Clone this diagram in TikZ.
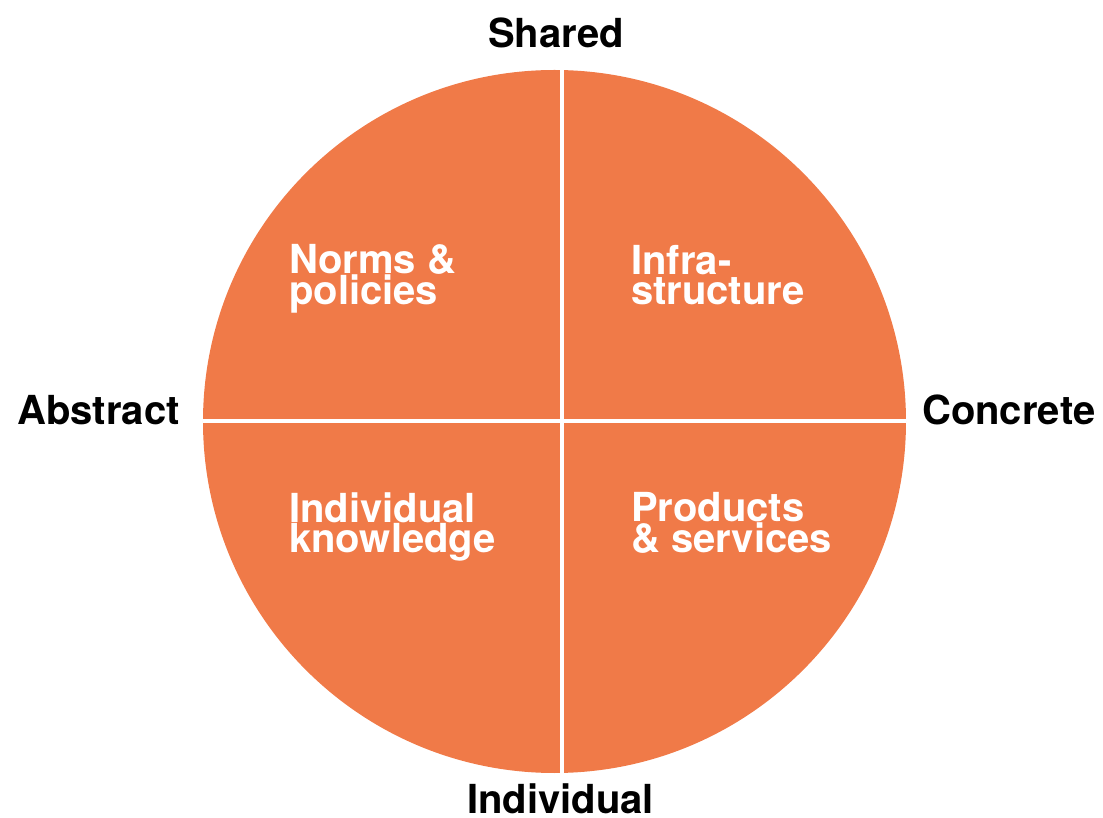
\documentclass[tikz,border=0pt]{standalone}
\usepackage{fontspec}
\setmainfont{TeX Gyre Heros}
\definecolor{quadorange}{RGB}{240,122,72}
\tikzset{
  axislabel/.style={inner sep=0pt,font=\fontsize{40bp}{40bp}\selectfont\bfseries},
  quadlabel/.style={inner sep=0pt,align=left,text=white,anchor=base west,
    font=\fontsize{40bp}{30bp}\selectfont\bfseries}
}
\begin{document}
\begin{tikzpicture}[x=1bp,y=1bp]
        \useasboundingbox (-554.5,-396.5) rectangle (548.5,421.5);
        %% Disc and dividing gaps
        \fill[quadorange] (0,0) circle (351.5);
        \begin{scope}
          \clip (0,0) circle (352);
          \draw[white,line width=4bp] (7.5,-360) -- (7.5,360);
          \draw[white,line width=4bp] (-360,0) -- (360,0);
        \end{scope}
        %% Axis labels
        \node[axislabel,anchor=base] (shared) at (1.5,373.5) {Shared};
        \node[axislabel,anchor=base] (individual) at (6,-391.5) {Individual};
        \node[axislabel,anchor=base east] (abstract) at (-374.5,-3.5) {Abstract};
        \node[axislabel,anchor=base west] (concrete) at (367.5,-3.5) {Concrete};
        %% Quadrant labels (anchored on the last line)
        \node[quadlabel] (norms) at (-265.5,116.5) {Norms \&\\policies};
        \node[quadlabel] (infra) at (76.5,116.5) {Infra-\\structure};
        \node[quadlabel] (knowledge) at (-265.5,-131.5) {Individual\\knowledge};
        \node[quadlabel] (products) at (76.5,-131.5) {Products\\\& services};
\end{tikzpicture}
\end{document}
